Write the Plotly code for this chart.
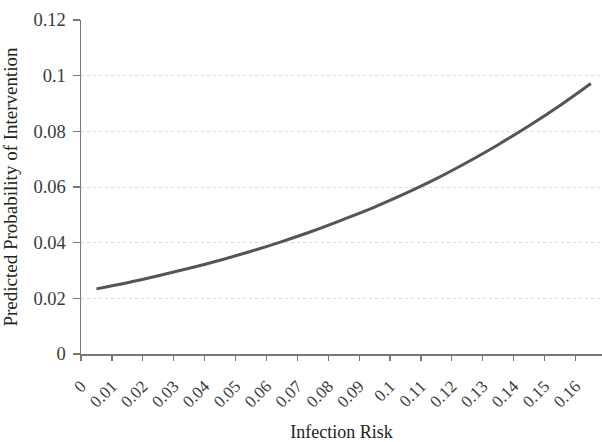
import plotly.graph_objects as go

# Values
infection_risk = [0.005, 0.015, 0.025, 0.035, 0.045, 0.055, 0.065, 0.075, 0.085,
                  0.095, 0.105, 0.115, 0.125, 0.135, 0.145, 0.155, 0.165]
predicted_prob = [0.0234, 0.0256, 0.0281, 0.0308, 0.0337, 0.0369, 0.0404, 0.0442,
                  0.0484, 0.0528, 0.0577, 0.0630, 0.0689, 0.0752, 0.0820, 0.0893, 0.0972]

x_tick_vals = [0, 0.01, 0.02, 0.03, 0.04, 0.05, 0.06, 0.07, 0.08, 0.09, 0.1,
               0.11, 0.12, 0.13, 0.14, 0.15, 0.16]
x_tick_text = ["0", "0.01", "0.02", "0.03", "0.04", "0.05", "0.06", "0.07", "0.08",
               "0.09", "0.1", "0.11", "0.12", "0.13", "0.14", "0.15", "0.16"]
y_tick_vals = [0, 0.02, 0.04, 0.06, 0.08, 0.1, 0.12]
y_tick_text = ["0", "0.02", "0.04", "0.06", "0.08", "0.1", "0.12"]

font_family = "Liberation Serif, Times New Roman, serif"

fig = go.Figure()
fig.add_trace(go.Scatter(
    x=infection_risk, y=predicted_prob, mode="lines",
    line=dict(color="#555555", width=3, shape="spline"),
    showlegend=False, hoverinfo="skip"))

fig.update_layout(
    width=602, height=442,
    margin=dict(l=81, r=0, t=20, b=88),
    paper_bgcolor="white", plot_bgcolor="white",
    font=dict(family=font_family, color="#333333", size=18),
    xaxis=dict(
        range=[0, 0.1686], tickvals=x_tick_vals, ticktext=x_tick_text,
        tickangle=-45, tickfont=dict(size=17, family=font_family, color="#3a3a3a"),
        showline=True, linecolor="#777777", linewidth=1.5,
        ticks="outside", ticklen=5, tickcolor="#777777", tickwidth=1.2,
        ticklabelstandoff=9,
        showgrid=False, zeroline=False, automargin=False,
        title=dict(text="Infection Risk", font=dict(size=18, family=font_family, color="#222222"),
                   standoff=16),
    ),
    yaxis=dict(
        range=[0, 0.12], tickvals=y_tick_vals, ticktext=y_tick_text,
        tickfont=dict(size=18.5, family=font_family, color="#3a3a3a"),
        showline=True, linecolor="#777777", linewidth=1.5,
        ticks="outside", ticklen=7, tickcolor="#777777", tickwidth=1.2,
        ticklabelstandoff=3,
        showgrid=True, gridcolor="#dcdcdc", griddash="dot", gridwidth=1,
        zeroline=False, automargin=False,
        title=dict(text="Predicted Probability of Intervention",
                   font=dict(size=19, family=font_family, color="#222222"), standoff=12),
    ),
)

fig.write_html("out.html",
               config={"displayModeBar": False, "staticPlot": True},
               post_script="document.body.style.margin='0';document.body.style.overflow='hidden';")
